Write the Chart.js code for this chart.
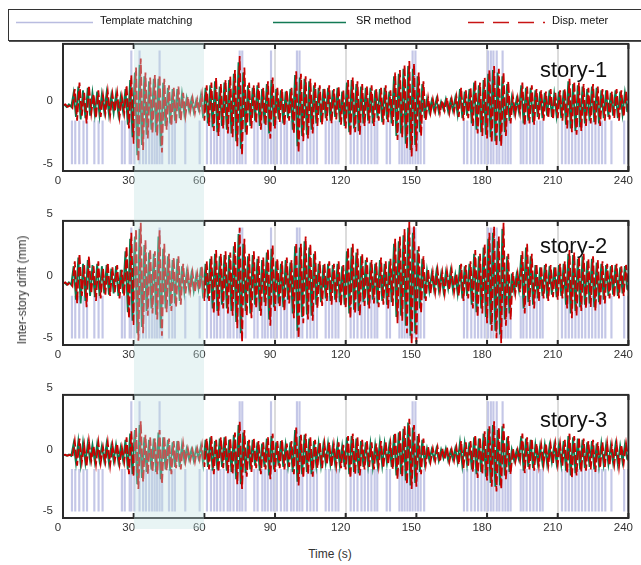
<!DOCTYPE html>
<html>
<head>
<meta charset="utf-8">
<script src="https://cdn.jsdelivr.net/npm/chart.js@4.4.0/dist/chart.umd.min.js"></script>
<style>
  html, body { margin: 0; padding: 0; background: #fff; }
  #wrap { position: relative; width: 641px; height: 565px; overflow: hidden; font-family: "Liberation Sans", Arial, sans-serif; color: #222; }
  canvas.panel { position: absolute; left: 0; }
  #legend { position: absolute; left: 8px; top: 9px; width: 660px; height: 30px; border: 1px solid #333; box-shadow: 1px 1px 0 #555; background: #fff; z-index: 5; }
  #legend svg { position: absolute; left: 0; top: 0; }
  #legend span { position: absolute; top: 4px; font-size: 11px; white-space: nowrap; color: #111; }
  .story { position: absolute; left: 540px; font-size: 22px; line-height: 22px; color: #111; }
  #ytitle { position: absolute; left: 22px; top: 290px; transform: translate(-50%, -50%) rotate(-90deg); font-size: 12px; white-space: nowrap; color: #333; }
  #xtitle { position: absolute; left: 330px; top: 554px; transform: translate(-50%, -50%); font-size: 12px; color: #333; }
  #shade { position: absolute; background: rgba(190, 224, 224, 0.36); z-index: 4; pointer-events: none; }
</style>
</head>
<body>
<div id="wrap">
  <canvas class="panel" id="c0"></canvas>
  <canvas class="panel" id="c1"></canvas>
  <canvas class="panel" id="c2"></canvas>
  <div id="shade"></div>
  <div id="legend">
    <svg width="660" height="30">
      <line x1="7" y1="12.5" x2="84" y2="12.5" stroke="#b9bce0" stroke-width="1.5"/>
      <line x1="264" y1="12.5" x2="337" y2="12.5" stroke="#137a55" stroke-width="1.5"/>
      <line x1="459" y1="12.5" x2="536" y2="12.5" stroke="#c81414" stroke-width="1.5" stroke-dasharray="16,9"/>
    </svg>
    <span style="left:91px">Template matching</span>
    <span style="left:347px">SR method</span>
    <span style="left:543px">Disp. meter</span>
  </div>
  <div class="story" style="top:59px">story-1</div>
  <div class="story" style="top:235px">story-2</div>
  <div class="story" style="top:409px">story-3</div>
  <div id="ytitle">Inter-story drift (mm)</div>
  <div id="xtitle">Time (s)</div>
</div>
<script>
// Disp. meter readings, one per second (t = 0 ... 240 s)
const DISP_1 = [
  -0.4,-0.3,-0.5,-0.4,-0.6,0.9,-1.6,1.4,-1.2,0.6,
  -1.8,1.2,-1.0,0.5,-1.4,0.8,-1.3,0.4,-1.0,0.7,
  -1.2,0.5,-0.9,0.6,-1.3,0.3,-1.0,1.2,-2.2,2.0,
  -3.4,2.6,-4.8,3.3,-3.9,2.2,-3.0,1.8,-2.6,2.0,
  -2.8,2.0,-4.1,1.7,-2.3,1.2,-2.0,1.0,-1.8,1.1,
  -1.6,0.6,-1.2,0.3,-0.9,0.2,-1.0,0.1,-0.8,0.5,
  -1.6,1.2,-2.0,1.4,-2.4,1.8,-2.8,1.3,-2.2,1.6,
  -2.6,1.9,-2.9,2.4,-3.6,3.5,-4.3,2.6,-2.8,1.4,
  -2.2,1.2,-1.8,1.4,-2.3,1.0,-2.0,1.5,-3.0,1.8,
  -2.2,1.0,-1.7,0.9,-2.0,0.8,-1.6,1.0,-2.6,2.3,
  -4.1,2.1,-3.2,1.9,-3.0,1.7,-2.6,1.4,-2.0,1.2,
  -1.9,1.0,-1.6,1.2,-1.8,0.9,-1.5,1.1,-1.9,0.8,
  -2.2,1.6,-2.8,1.8,-2.5,1.5,-2.7,1.3,-2.0,1.1,
  -1.8,1.2,-2.0,0.9,-1.6,1.0,-1.9,1.2,-1.7,0.8,
  -2.0,2.2,-3.1,2.4,-2.9,2.8,-3.8,3.1,-4.4,2.9,
  -4.0,2.2,-2.8,1.5,-1.6,0.2,-1.0,0.1,-0.9,0.2,
  -1.0,0.0,-0.8,0.2,-1.0,0.1,-0.9,0.3,-1.3,1.0,
  -1.6,0.8,-1.4,1.0,-2.0,1.6,-2.6,1.4,-2.8,1.8,
  -3.0,2.4,-3.3,2.7,-3.6,2.5,-3.6,2.2,-2.8,1.5,
  -1.8,0.3,-1.1,0.2,-1.0,1.4,-2.0,1.1,-1.8,1.2,
  -1.9,0.9,-1.5,0.8,-1.6,0.7,-1.4,0.9,-1.5,0.6,
  -1.4,0.8,-1.6,0.9,-2.2,1.7,-2.5,1.5,-2.7,1.4,
  -2.4,1.3,-2.0,1.0,-1.8,1.3,-1.9,1.1,-2.0,0.9,
  -1.6,0.9,-1.5,0.7,-1.4,0.9,-1.6,0.8,-1.3,0.7,
  -1.0
];
const DISP_2 = [
  -0.6,-0.5,-0.7,-0.5,-0.8,1.2,-2.2,1.8,-1.6,0.9,
  -2.5,1.6,-1.4,0.8,-2.0,1.2,-1.8,0.6,-1.5,1.1,
  -1.6,0.7,-1.3,0.9,-1.8,0.5,-1.6,2.4,-3.4,3.5,
  -4.0,3.8,-5.2,4.3,-4.6,2.9,-3.2,2.2,-3.0,2.0,
  -3.5,3.7,-4.8,2.6,-2.9,1.8,-2.8,1.5,-2.5,1.6,
  -2.3,1.0,-1.4,0.4,-1.2,0.3,-1.3,0.2,-1.1,0.8,
  -2.0,1.2,-2.0,1.6,-3.0,2.1,-3.2,1.8,-2.6,2.0,
  -3.0,1.9,-3.2,2.8,-4.2,3.9,-5.3,3.0,-3.2,1.8,
  -3.4,2.0,-2.6,1.6,-3.2,1.5,-2.4,2.2,-4.0,2.5,
  -2.8,1.4,-2.5,1.2,-2.8,1.5,-2.2,1.3,-3.4,2.7,
  -5.0,2.6,-3.8,3.2,-3.5,2.6,-3.6,2.0,-2.6,1.2,
  -2.4,1.0,-2.0,1.2,-2.3,1.0,-2.1,1.2,-2.4,0.9,
  -2.6,2.3,-3.4,2.6,-3.0,2.2,-3.2,1.8,-2.4,1.5,
  -2.6,1.3,-2.2,1.1,-2.5,1.5,-2.3,1.2,-2.6,1.4,
  -2.4,3.0,-3.8,3.2,-3.6,3.8,-4.6,4.4,-5.5,4.0,
  -5.3,2.4,-3.0,1.6,-2.0,0.5,-1.4,0.3,-1.3,0.5,
  -1.2,0.3,-1.4,0.4,-1.1,0.5,-1.3,0.2,-1.6,1.0,
  -2.0,0.9,-1.8,1.2,-2.6,2.1,-3.3,1.8,-3.0,2.6,
  -3.8,3.5,-4.4,4.0,-5.0,3.2,-5.4,4.3,-4.0,1.8,
  -3.5,0.3,-1.4,0.2,-1.3,2.0,-3.0,2.6,-2.4,1.8,
  -2.6,1.0,-2.0,0.8,-1.8,1.0,-2.0,0.9,-1.7,0.8,
  -1.9,1.0,-1.8,1.2,-2.6,2.1,-3.4,1.9,-3.2,1.6,
  -2.8,1.8,-2.6,1.4,-2.5,1.6,-2.8,1.3,-2.4,1.2,
  -2.2,1.0,-1.8,0.9,-1.7,1.0,-1.8,0.8,-1.6,0.9,
  -1.2
];
const DISP_3 = [
  -0.45,-0.4,-0.5,-0.4,-0.6,0.7,-1.3,0.9,-1.0,0.4,
  -1.4,0.7,-0.9,0.3,-1.2,0.6,-1.1,0.2,-1.0,0.6,
  -1.3,0.4,-0.9,0.5,-1.2,0.2,-1.0,1.0,-2.0,1.5,
  -2.2,1.8,-3.2,2.3,-2.6,1.2,-2.0,1.0,-1.8,0.9,
  -2.0,1.6,-2.8,1.1,-1.7,0.9,-2.0,0.7,-1.5,0.8,
  -1.6,0.5,-1.0,0.1,-0.9,0.0,-1.0,0.1,-0.8,0.4,
  -1.4,0.9,-1.6,1.1,-2.0,0.8,-1.8,1.0,-1.5,1.1,
  -1.9,0.9,-2.0,1.4,-2.8,2.3,-3.2,1.6,-2.2,0.8,
  -1.8,0.9,-1.5,0.7,-2.0,0.6,-1.6,1.0,-2.4,1.3,
  -1.8,0.7,-1.5,0.8,-1.6,0.5,-1.4,0.7,-2.0,1.8,
  -2.9,1.2,-2.3,1.3,-2.0,1.0,-2.2,0.8,-1.5,0.6,
  -1.5,0.5,-1.2,0.6,-1.4,0.4,-1.3,0.6,-1.5,0.4,
  -1.6,1.1,-2.3,1.3,-2.0,1.0,-2.1,0.8,-1.6,0.7,
  -1.4,0.6,-1.6,0.5,-1.3,0.7,-1.5,0.6,-1.2,0.5,
  -1.6,1.4,-2.4,1.6,-2.2,1.9,-2.8,2.5,-3.2,2.0,
  -3.0,1.3,-2.0,0.9,-1.2,0.2,-1.0,0.1,-0.9,0.2,
  -1.0,0.1,-0.8,0.2,-1.0,0.0,-0.9,0.2,-1.2,0.7,
  -1.5,0.6,-1.3,0.7,-1.8,1.2,-2.3,1.0,-2.0,1.5,
  -2.5,1.9,-3.0,2.3,-3.4,1.8,-3.2,2.1,-2.4,1.1,
  -2.0,0.1,-1.0,0.0,-0.9,1.3,-1.9,1.0,-1.6,0.9,
  -1.7,0.5,-1.3,0.4,-1.2,0.5,-1.3,0.4,-1.1,0.5,
  -1.2,0.5,-1.3,0.8,-1.9,1.3,-2.3,1.1,-2.1,1.0,
  -1.8,0.9,-1.7,0.7,-1.6,0.8,-1.8,0.6,-1.5,0.6,
  -1.4,0.5,-1.3,0.4,-1.2,0.5,-1.4,0.4,-1.1,0.5,
  -0.9
];

// SR method estimates, one per second, half a second after the meter samples (t = 0.5 ... 239.5 s)
const SR_1 = [
  -0.3,-0.5,-0.3,-0.5,0.6,-1.3,1.1,-1.5,0.8,-1.4,
  1.0,-1.2,0.6,-1.1,0.7,-1.2,0.5,-0.9,0.6,-1.1,
  0.4,-1.0,0.5,-1.1,0.3,-0.9,0.9,-1.9,1.6,-2.9,
  2.2,-4.3,2.8,-3.5,1.9,-2.7,1.5,-2.3,1.7,-2.5,
  1.7,-3.6,1.4,-2.0,1.0,-1.8,0.9,-1.6,0.9,-1.4,
  0.5,-1.1,0.2,-0.8,0.1,-0.9,0.0,-0.7,0.4,-1.4,
  1.0,-1.8,1.2,-2.1,1.5,-2.5,1.1,-2.0,1.4,-2.3,
  1.6,-2.6,2.1,-3.2,3.0,-3.8,2.2,-2.5,1.2,-2.0,
  1.0,-1.6,1.2,-2.0,0.9,-1.8,1.3,-2.6,1.6,-2.0,
  0.9,-1.5,0.8,-1.8,0.7,-1.4,0.9,-2.3,2.0,-3.6,
  1.8,-2.8,1.7,-2.7,1.5,-2.3,1.2,-1.8,1.0,-1.7,
  0.9,-1.4,1.0,-1.6,0.8,-1.3,1.0,-1.7,0.7,-2.0,
  1.4,-2.5,1.6,-2.2,1.3,-2.4,1.1,-1.8,1.0,-1.6,
  1.0,-1.8,0.8,-1.4,0.9,-1.7,1.0,-1.5,0.7,-1.8,
  1.9,-2.8,2.1,-2.6,2.5,-3.4,2.7,-3.9,2.5,-3.5,
  1.9,-2.5,1.3,-1.4,0.1,-0.9,0.0,-0.8,0.1,-0.9,
  -0.1,-0.7,0.1,-0.9,0.0,-0.8,0.2,-1.1,0.9,-1.4,
  0.7,-1.2,0.9,-1.8,1.4,-2.3,1.2,-2.5,1.6,-2.7,
  2.1,-2.9,2.4,-3.2,2.2,-3.2,1.9,-2.5,1.3,-1.6,
  0.2,-1.0,0.1,-0.9,1.2,-1.8,1.0,-1.6,1.0,-1.7,
  0.8,-1.3,0.7,-1.4,0.6,-1.2,0.8,-1.3,0.5,-1.2,
  0.7,-1.4,0.8,-1.9,1.5,-2.2,1.3,-2.4,1.2,-2.1,
  1.1,-1.8,0.9,-1.6,1.1,-1.7,1.0,-1.8,0.8,-1.4,
  0.8,-1.3,0.6,-1.2,0.8,-1.4,0.7,-1.1,0.6,-0.9
];
const SR_2 = [
  -0.5,-0.7,-0.5,-0.7,0.8,-1.9,1.5,-2.2,1.0,-2.0,
  1.3,-1.6,0.9,-1.7,1.0,-1.6,0.8,-1.4,0.9,-1.5,
  0.6,-1.4,0.8,-1.6,0.5,-1.4,2.0,-2.9,3.0,-3.6,
  3.2,-4.6,3.8,-4.1,2.5,-2.8,1.9,-2.6,1.8,-3.1,
  3.2,-4.2,2.2,-2.6,1.6,-2.4,1.3,-2.2,1.4,-2.0,
  0.8,-1.3,0.3,-1.1,0.2,-1.2,0.1,-1.0,0.7,-1.8,
  1.0,-1.8,1.4,-2.6,1.8,-2.8,1.6,-2.3,1.7,-2.6,
  1.7,-2.8,2.4,-3.7,3.4,-4.6,2.6,-2.8,1.6,-3.0,
  1.7,-2.3,1.4,-2.8,1.3,-2.1,1.9,-3.5,2.2,-2.5,
  1.2,-2.2,1.0,-2.5,1.3,-1.9,1.1,-3.0,2.4,-4.4,
  2.3,-3.3,2.8,-3.1,2.3,-3.2,1.8,-2.3,1.0,-2.1,
  0.9,-1.8,1.0,-2.0,0.9,-1.9,1.0,-2.1,0.8,-2.3,
  2.0,-3.0,2.3,-2.7,1.9,-2.8,1.6,-2.1,1.3,-2.3,
  1.1,-1.9,1.0,-2.2,1.3,-2.0,1.0,-2.3,1.2,-2.1,
  2.6,-3.3,2.8,-3.2,3.3,-4.0,3.9,-4.8,3.5,-4.6,
  2.1,-2.6,1.4,-1.8,0.4,-1.2,0.2,-1.1,0.4,-1.1,
  0.2,-1.2,0.3,-1.0,0.4,-1.1,0.1,-1.4,0.9,-1.8,
  0.8,-1.6,1.0,-2.3,1.8,-2.9,1.6,-2.6,2.3,-3.3,
  3.0,-3.9,3.5,-4.4,2.8,-4.7,3.8,-3.5,1.6,-3.0,
  0.2,-1.2,0.1,-1.1,1.7,-2.6,2.3,-2.1,1.6,-2.3,
  0.9,-1.8,0.7,-1.6,0.9,-1.8,0.8,-1.5,0.7,-1.7,
  0.9,-1.6,1.0,-2.3,1.8,-3.0,1.7,-2.8,1.4,-2.5,
  1.6,-2.3,1.2,-2.2,1.4,-2.5,1.1,-2.1,1.0,-1.9,
  0.9,-1.6,0.8,-1.5,0.9,-1.6,0.7,-1.4,0.8,-1.1
];
const SR_3 = [
  -0.4,-0.5,-0.4,-0.5,0.5,-1.1,0.7,-1.2,0.6,-1.1,
  0.5,-0.9,0.4,-1.0,0.5,-0.9,0.3,-0.9,0.5,-1.1,
  0.3,-0.9,0.4,-1.0,0.2,-0.9,0.8,-1.6,1.3,-2.0,
  1.6,-2.8,2.0,-2.3,1.0,-1.8,0.8,-1.6,0.9,-1.8,
  1.4,-2.4,1.0,-1.6,0.8,-1.7,0.6,-1.4,0.7,-1.4,
  0.4,-0.9,0.1,-0.8,0.0,-0.9,0.1,-0.7,0.3,-1.2,
  0.8,-1.4,1.0,-1.7,0.7,-1.6,0.9,-1.4,1.0,-1.7,
  0.8,-1.8,1.2,-2.4,2.0,-2.8,1.4,-1.9,0.7,-1.6,
  0.8,-1.3,0.6,-1.7,0.5,-1.4,0.9,-2.1,1.1,-1.6,
  0.6,-1.3,0.7,-1.4,0.4,-1.3,0.6,-1.8,1.6,-2.6,
  1.1,-2.0,1.2,-1.8,0.9,-2.0,0.7,-1.3,0.5,-1.3,
  0.4,-1.1,0.5,-1.2,0.3,-1.2,0.5,-1.3,0.3,-1.4,
  1.0,-2.0,1.1,-1.8,0.9,-1.9,0.7,-1.4,0.6,-1.3,
  0.5,-1.4,0.4,-1.2,0.6,-1.3,0.5,-1.1,0.4,-1.4,
  1.2,-2.1,1.4,-2.0,1.7,-2.5,2.2,-2.9,1.8,-2.7,
  1.1,-1.8,0.8,-1.1,0.1,-0.9,0.0,-0.8,0.1,-0.9,
  0.0,-0.7,0.1,-0.9,-0.1,-0.8,0.1,-1.0,0.6,-1.3,
  0.5,-1.2,0.6,-1.6,1.0,-2.0,0.9,-1.8,1.3,-2.2,
  1.7,-2.7,2.0,-3.0,1.6,-2.9,1.9,-2.1,1.0,-1.8,
  0.0,-0.9,-0.1,-0.8,1.1,-1.7,0.9,-1.4,0.8,-1.5,
  0.4,-1.1,0.3,-1.1,0.4,-1.2,0.3,-1.0,0.4,-1.1,
  0.4,-1.2,0.7,-1.7,1.1,-2.1,1.0,-1.9,0.9,-1.6,
  0.8,-1.5,0.6,-1.4,0.7,-1.6,0.5,-1.3,0.5,-1.2,
  0.4,-1.2,0.3,-1.1,0.4,-1.2,0.3,-1.0,0.4,-0.8
];

// Template matching detections (s); the tall ones reach the top of the plot
const TM_TIMES = [
  3.8, 5.2, 6.9, 8.7, 10.2, 13.3, 15.1, 16.8, 25.0, 26.2, 28.3, 29.0, 30.3, 32.5, 34.0, 35.2,
  36.6, 37.8, 38.9, 39.9, 41.0, 42.1, 45.0, 46.4, 47.5, 51.9, 58.0, 61.1, 62.8, 64.2, 65.4,
  66.8, 68.2, 69.9, 71.0, 72.4, 73.9, 75.0, 76.1, 77.5, 81.2, 82.6, 84.6, 85.7, 86.9, 88.3,
  89.4, 90.8, 92.5, 94.0, 95.1, 96.8, 97.9, 99.3, 100.4, 101.6, 103.6, 105.0, 106.4, 107.8,
  111.5, 112.9, 114.3, 115.7, 116.9, 122.1, 123.5, 125.0, 126.7, 128.1, 129.5, 130.9, 132.3,
  133.4, 137.4, 138.8, 142.8, 143.9, 145.0, 146.2, 147.3, 148.4, 149.6, 150.7, 151.8, 153.3,
  170.2, 171.6, 173.3, 174.8, 176.2, 177.6, 179.0, 180.4, 181.6, 182.7, 184.1, 185.2, 186.6,
  187.8, 188.9, 190.0, 194.3, 195.4, 196.8, 198.3, 199.7, 201.1, 202.5, 203.6, 211.8, 213.3,
  214.7, 216.1, 217.5, 218.9, 220.3, 221.7, 223.2, 224.6, 226.0, 227.4, 228.8, 230.2, 232.8,
  238.2, 239.9
];
const TM_TALL = [29.0, 32.5, 41.0, 75.0, 76.1, 88.3, 99.3, 100.4, 148.4, 149.6, 180.4, 181.6, 182.7, 184.1, 186.6];
const TM_BASE = -5;
const TM_TOP = -1.6;
const TM_TALL_TOP = 3.9;

const X_TICKS = [0, 30, 60, 90, 120, 150, 180, 210, 240];
const Y_TICKS = [-5, 0, 5];
const X_LINES = [90, 120, 180, 210];
const SHADE = [30, 60];

const DISP = [DISP_1, DISP_2, DISP_3];
const SR = [SR_1, SR_2, SR_3];

// layout of the three panels
const PANEL_TOP = [44, 221, 395];
const PANEL_H = [128, 125, 124];
const PAD_TOP = 16;
const X_AXIS_H = 24;

const LAVENDER = "#c4c7e7";
const GREEN = "#0b7a4e";
const RED = "#c80000";

Chart.defaults.font.family = "'Liberation Sans', Arial, sans-serif";
Chart.defaults.font.size = 11.5;
Chart.defaults.color = "#333";

const framePlugin = {
    id: "frame",
    afterDatasetsDraw(chart) {
        const { ctx, chartArea: a } = chart;
        const x = chart.scales.x;
        ctx.save();
        ctx.strokeStyle = "#2a2a2a";
        ctx.lineWidth = 2;
        ctx.strokeRect(a.left, a.top, a.right - a.left, a.bottom - a.top);
        ctx.beginPath();
        X_TICKS.forEach((v) => {
            const px = x.getPixelForValue(v);
            ctx.moveTo(px, a.top);
            ctx.lineTo(px, a.top + 5);
            ctx.moveTo(px, a.bottom);
            ctx.lineTo(px, a.bottom - 5);
        });
        ctx.stroke();
        ctx.restore();
    },
};

function makePanel(i) {
    const canvas = document.getElementById("c" + i);
    canvas.width = 641;
    canvas.height = PAD_TOP + PANEL_H[i] + X_AXIS_H;

    const tmData = TM_TIMES.map((t) => ({ x: t, y: [TM_BASE, TM_TALL.includes(t) ? TM_TALL_TOP : TM_TOP] }));
    const dispData = DISP[i].map((v, k) => ({ x: k, y: v }));
    const srData = SR[i].map((v, k) => ({ x: k + 0.5, y: v }));

    const chart = new Chart(canvas, {
        type: "line",
        data: {
            datasets: [
                {
                    type: "bar",
                    label: "Template matching",
                    data: tmData,
                    backgroundColor: LAVENDER,
                    barThickness: 1.5,
                    order: 3,
                },
                {
                    label: "SR method",
                    data: srData,
                    borderColor: GREEN,
                    borderWidth: 1.8,
                    pointRadius: 0,
                    tension: 0,
                    order: 2,
                },
                {
                    label: "Disp. meter",
                    data: dispData,
                    borderColor: RED,
                    borderWidth: 1.8,
                    borderDash: [9, 3],
                    pointRadius: 0,
                    tension: 0,
                    order: 1,
                },
            ],
        },
        options: {
            responsive: false,
            animation: false,
            events: [],
            layout: { padding: { top: PAD_TOP, right: 12, left: 0, bottom: 0 } },
            plugins: { legend: { display: false }, tooltip: { enabled: false } },
            scales: {
                x: {
                    type: "linear",
                    min: 0,
                    max: 240,
                    offset: false,
                    afterBuildTicks: (s) => { s.ticks = X_TICKS.map((v) => ({ value: v })); },
                    afterFit: (s) => { s.height = X_AXIS_H; },
                    ticks: { padding: 3, labelOffset: -5, maxRotation: 0, autoSkip: false },
                    grid: {
                        offset: false,
                        drawTicks: false,
                        lineWidth: 2,
                        color: (c) => (c.tick && X_LINES.includes(c.tick.value) ? "#dcdcdc" : "rgba(0,0,0,0)"),
                    },
                    border: { display: false },
                },
                y: {
                    min: -5.55,
                    max: 4.45,
                    afterBuildTicks: (s) => { s.ticks = Y_TICKS.map((v) => ({ value: v })); },
                    afterFit: (s) => { s.width = 63; },
                    ticks: { padding: 10 },
                    grid: { display: false, drawTicks: false },
                    border: { display: false },
                },
            },
        },
        plugins: [framePlugin],
    });

    // place the canvas so its plot box sits where the panel belongs
    canvas.style.top = (PANEL_TOP[i] - chart.chartArea.top) + "px";
    return chart;
}

const charts = [0, 1, 2].map(makePanel);

// shaded time window spanning all three panels
const xs = charts[0].scales.x;
const shade = document.getElementById("shade");
const left = xs.getPixelForValue(SHADE[0]);
const right = xs.getPixelForValue(SHADE[1]);
shade.style.left = left + "px";
shade.style.width = (right - left) + "px";
shade.style.top = (PANEL_TOP[0] - 1) + "px";
shade.style.height = (PANEL_TOP[2] + PANEL_H[2] + 10 - PANEL_TOP[0] + 1) + "px";
</script>
</body>
</html>
